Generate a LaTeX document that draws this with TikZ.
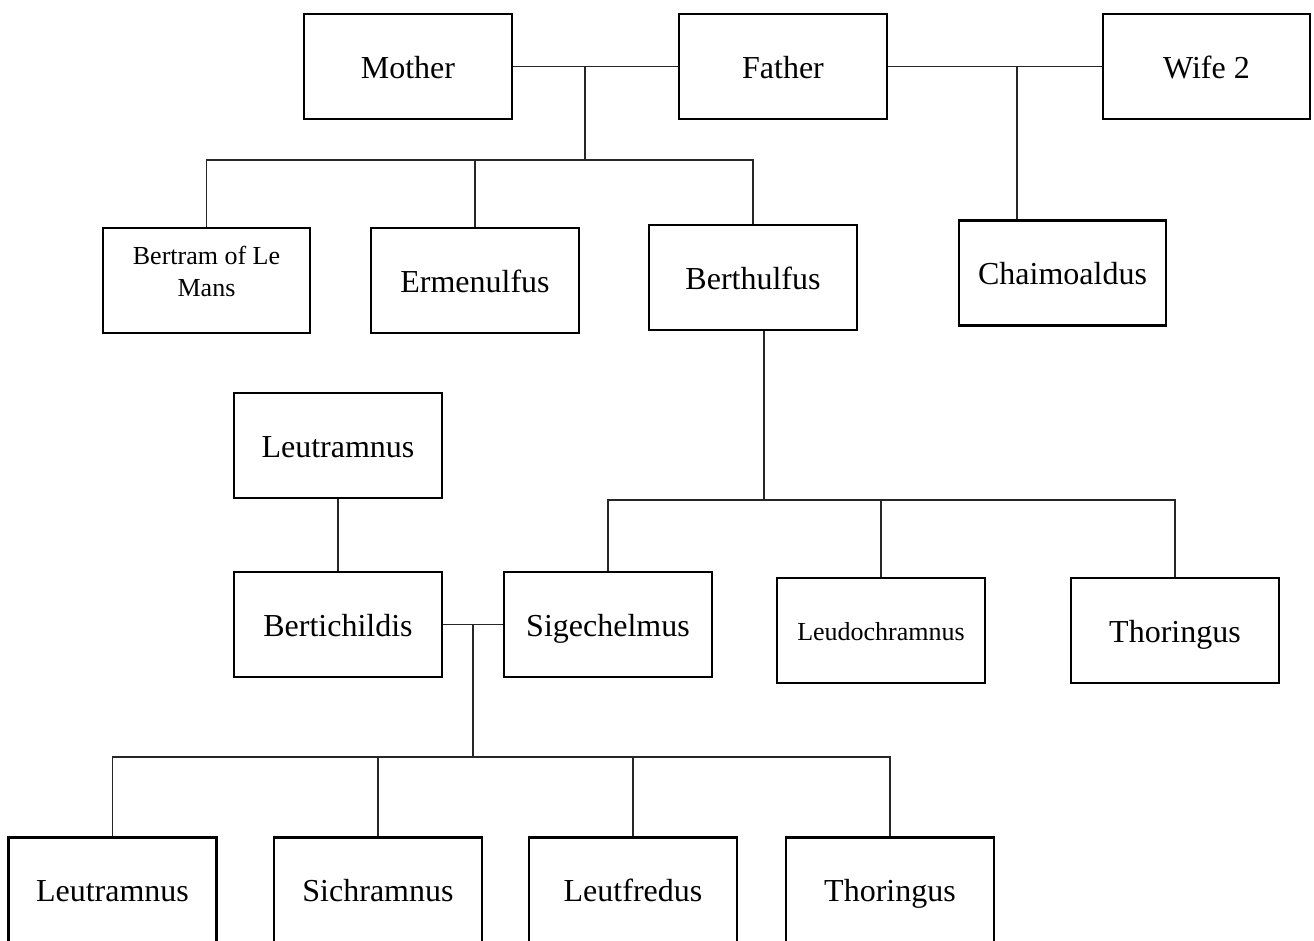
\documentclass[tikz,border=0pt]{standalone}
\usepackage{fontspec}
\setmainfont{Liberation Serif}
\begin{document}
\begin{tikzpicture}[x=0.5pt,y=-0.5pt,
  boxbase/.style={draw=black,line width=1.25pt,fill=white,minimum width=104pt,minimum height=52.5pt,inner sep=0pt},
  person/.style={boxbase,font=\fontsize{16}{19}\selectfont,text height=11.6pt,text depth=0pt},
  smallperson/.style={boxbase,font=\fontsize{13}{15.85}\selectfont,text height=9.6pt,text depth=0pt},
  twoline/.style={boxbase,font=\fontsize{13}{15.85}\selectfont},
  link/.style={draw=black!85,line width=0.55pt}]
\clip (0,0) rectangle (1314,941);
\fill[white] (0,0) rectangle (1314,941);
% generation 1
\node[person] (mother) at (408,66.5) {Mother};
\node[person] (father) at (783,66.5) {Father};
\node[person,minimum width=103.5pt] (wife) at (1206.5,66.5) {Wife 2};
% generation 2
\node[twoline,minimum width=103.5pt] (bertram) at (206.5,280.5) {\raisebox{3pt}[\height][\depth]{\begin{tabular}{@{}c@{}}Bertram of Le\\Mans\end{tabular}}};
\node[person] (ermen) at (475,280.5) {Ermenulfus};
\node[person] (berthulfus) at (753,277.5) {Berthulfus};
\node[person,minimum width=103.5pt] (chaim) at (1062.5,273) {Chaimoaldus};
% generation 3
\node[person] (leutA) at (338,445.5) {Leutramnus};
\node[person] (bertichildis) at (338,624.5) {Bertichildis};
\node[person] (sigechelmus) at (608,624.5) {Sigechelmus};
\node[smallperson] (leudo) at (881,630.5) {Leudochramnus};
\node[person] (thorA) at (1175,630.5) {Thoringus};
% generation 4
\node[person] (leutB) at (112.5,890) {Leutramnus};
\node[person] (sichr) at (378,890) {Sichramnus};
\node[person] (leutf) at (633,890) {Leutfredus};
\node[person] (thorB) at (890,890) {Thoringus};
% coordinates
\coordinate (mf) at (585,66.5);
\coordinate (barA) at (585,160);
\coordinate (fw) at (1017,66.5);
\coordinate (bdown) at (764,331);
\coordinate (barB) at (764,500);
\coordinate (bs) at (473,624.5);
\coordinate (barC) at (473,757);
% connectors
\draw[link] (mother.east) -- (father.west);
\draw[link] (mf) -- (barA);
\draw[link] (bertram.north) |- (barA) -| (berthulfus.north);
\draw[link] (ermen.north) -- (ermen.north |- barA);
\draw[link] (father.east) -- (wife.west);
\draw[link] (fw) -- (fw |- chaim.north);
\draw[link] (bdown) -- (barB);
\draw[link] (sigechelmus.north) |- (barB) -| (thorA.north);
\draw[link] (leudo.north) -- (leudo.north |- barB);
\draw[link] (leutA.south) -- (bertichildis.north);
\draw[link] (bertichildis.east) -- (sigechelmus.west);
\draw[link] (bs) -- (barC);
\draw[link] (leutB.north) |- (barC) -| (thorB.north);
\draw[link] (sichr.north) -- (sichr.north |- barC);
\draw[link] (leutf.north) -- (leutf.north |- barC);
\end{tikzpicture}
\end{document}
